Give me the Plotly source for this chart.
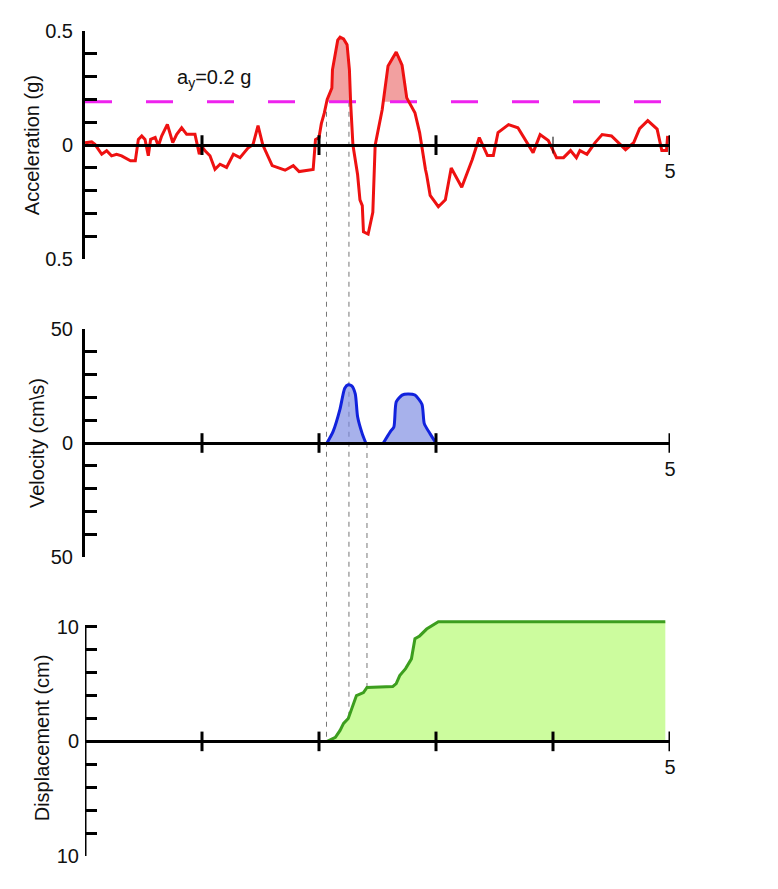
import plotly.graph_objects as go

# Acceleration record (time in s, acceleration in g)
acc_t = [0, 0.057, 0.085, 0.143, 0.185, 0.227, 0.27, 0.313, 0.389, 0.43,
         0.456, 0.485, 0.513, 0.541, 0.561, 0.6, 0.627, 0.655, 0.704, 0.75,
         0.784, 0.826, 0.869, 0.94, 0.977, 0.997, 1.026, 1.068, 1.111, 1.154,
         1.21, 1.268, 1.325, 1.396, 1.436, 1.479, 1.52, 1.6, 1.71, 1.78,
         1.83, 1.95, 1.97, 2.0, 2.02, 2.045, 2.07, 2.11, 2.115, 2.14,
         2.16, 2.18, 2.21, 2.24, 2.26, 2.27, 2.29, 2.33, 2.35, 2.37,
         2.38, 2.42, 2.46, 2.48, 2.54, 2.59, 2.66, 2.71, 2.75, 2.82,
         2.86, 2.91, 2.92, 2.95, 3.02, 3.08, 3.13, 3.22, 3.31, 3.37,
         3.44, 3.49, 3.53, 3.62, 3.7, 3.83, 3.89, 3.96, 4.03, 4.09,
         4.15, 4.2, 4.23, 4.29, 4.36, 4.42, 4.5, 4.62, 4.69, 4.74,
         4.81, 4.89, 4.93, 4.97, 4.98]
acc_g = [0.01, 0.014, 0.003, -0.04, -0.025, -0.047, -0.04, -0.047, -0.069, -0.069,
         0.025, 0.04, 0.025, -0.047, 0.025, 0.033, -0.004, 0.04, 0.091, 0.011,
         0.047, 0.076, 0.047, 0.047, -0.04, -0.004, -0.025, -0.047, -0.106, -0.084,
         -0.098, -0.04, -0.055, -0.011, 0.002, 0.085, 0.0, -0.09, -0.11, -0.09,
         -0.116, -0.107, 0.024, 0.033, 0.094, 0.14, 0.2, 0.25, 0.33, 0.395,
         0.46, 0.473, 0.465, 0.44, 0.33, 0.19, 0.0, -0.13, -0.24, -0.265,
         -0.38, -0.39, -0.295, 0.0, 0.155, 0.347, 0.408, 0.35, 0.207, 0.142,
         0.055, -0.107, -0.13, -0.22, -0.27, -0.24, -0.1, -0.185, -0.063, 0.033,
         -0.046, -0.046, 0.055, 0.09, 0.076, -0.033, 0.046, 0.02, -0.055, -0.055,
         -0.024, -0.055, -0.024, -0.04, 0.011, 0.046, 0.04, -0.02, 0.011, 0.072,
         0.107, 0.07, -0.024, -0.024, 0.04]
yield_acc = 0.19

# Sliding velocity pulses (cm/s)
vel1_t = [2.068, 2.12, 2.18, 2.22, 2.25, 2.28, 2.31, 2.33, 2.37, 2.4]
vel1_cms = [0, 5, 15, 24, 25.5, 25, 21.5, 11.5, 4, 0]
vel2_t = [2.55, 2.61, 2.64, 2.66, 2.71, 2.76, 2.82, 2.88, 2.9, 2.95, 3.0]
vel2_cms = [0, 5, 7, 18, 21, 21.5, 21, 17, 8.5, 4, 0]

# Sliding displacement (cm)
disp_t = [2.07, 2.14, 2.18, 2.21, 2.25, 2.28, 2.32, 2.38, 2.41, 2.63, 2.66,
          2.69, 2.74, 2.79, 2.82, 2.86, 2.92, 3.02, 4.96]
disp_cm = [0, 0.35, 0.96, 1.57, 2.0, 2.87, 4.0, 4.26, 4.7, 4.78, 5.04,
           5.74, 6.35, 7.2, 8.96, 9.2, 9.8, 10.43, 10.43]

# times of the dashed guide lines
guide_times = [2.064, 2.256, 2.41]

# axis ticks
acc_ticks = [0.5, 0, -0.5]
acc_labels = ['0.5', '0', '0.5']
vel_ticks = [50, 0, -50]
vel_labels = ['50', '0', '50']
disp_ticks = [10, 0, -10]
disp_labels = ['10', '0', '10']
acc_xticks = [1, 2, 3, 5]
vel_xticks = [1, 2, 3, 5]
disp_xticks = [1, 2, 3, 4, 5]

FONT = 'Liberation Sans, Arial, sans-serif'
# plot area: 585 x 828 px
doms = {'acc': [0.7234, 1.0], 'vel': [0.3623, 0.6389], 'disp': [0.0, 0.2862]}
ranges = {'acc': [-0.5, 0.5], 'vel': [-50, 50], 'disp': [-10, 10.6]}
minor_dt = {'acc': 0.1, 'vel': 10, 'disp': 2}


def to_paper(val, key):
    lo, hi = doms[key]
    r0, r1 = ranges[key]
    return lo + (val - r0) / (r1 - r0) * (hi - lo)


# red area above the yield acceleration
ft, fa = [], []
for i in range(len(acc_t) - 1):
    t0, a0, t1, a1 = acc_t[i], acc_g[i], acc_t[i + 1], acc_g[i + 1]
    ft.append(t0)
    fa.append(max(a0, yield_acc))
    if (a0 - yield_acc) * (a1 - yield_acc) < 0:
        ft.append(t0 + (yield_acc - a0) * (t1 - t0) / (a1 - a0))
        fa.append(yield_acc)
ft.append(acc_t[-1])
fa.append(max(acc_g[-1], yield_acc))

data = [
    go.Scatter(x=ft, y=fa, mode='lines', fill='toself', line=dict(width=0),
               fillcolor='rgb(242,160,160)', xaxis='x', yaxis='y'),
    go.Scatter(x=[0, 5], y=[yield_acc, yield_acc], mode='lines',
               line=dict(color='#ee22ee', width=3, dash='27px,34px'), xaxis='x', yaxis='y'),
    go.Scatter(x=acc_t, y=acc_g, mode='lines', line=dict(color='#ee1111', width=3),
               xaxis='x', yaxis='y'),
]
for vt, vv in [(vel1_t, vel1_cms), (vel2_t, vel2_cms)]:
    data.append(go.Scatter(x=vt, y=vv, mode='lines', fill='tozeroy',
                           line=dict(color='#1122dd', width=3, shape='spline', smoothing=0.6),
                           fillcolor='rgba(120,135,225,0.65)', xaxis='x2', yaxis='y2'))
data.append(go.Scatter(x=disp_t, y=disp_cm, mode='lines', fill='tozeroy',
                       line=dict(color='#3c9e1e', width=3),
                       fillcolor='rgb(204,252,158)', xaxis='x3', yaxis='y3'))

# tick marks crossing the zero lines
for xt, xa, ya in [(acc_xticks, 'x', 'y'), (vel_xticks, 'x2', 'y2'), (disp_xticks, 'x3', 'y3')]:
    data.append(go.Scatter(x=xt, y=[0] * len(xt), mode='markers', xaxis=xa, yaxis=ya,
                           marker=dict(symbol='line-ns', size=14, line=dict(width=3, color='black'))))
data.append(go.Scatter(x=[4], y=[0], mode='markers', xaxis='x', yaxis='y',
                       marker=dict(symbol='line-ns', size=12, line=dict(width=1, color='black'))))

# the page body adds 8 px around the figure
layout = go.Layout(width=770, height=881, showlegend=False,
                   paper_bgcolor='white', plot_bgcolor='white',
                   margin=dict(l=77, r=108, t=20, b=33),
                   font=dict(family=FONT, size=20, color='#111'))

for key, xa, ya, ticks, labels, title in [
        ('acc', 'xaxis', 'yaxis', acc_ticks, acc_labels, 'Acceleration (g)'),
        ('vel', 'xaxis2', 'yaxis2', vel_ticks, vel_labels, 'Velocity (cm\\s)'),
        ('disp', 'xaxis3', 'yaxis3', disp_ticks, disp_labels, 'Displacement (cm)')]:
    suffix = ya[5:]
    layout[xa] = dict(domain=[0, 1], range=[0, 5], anchor='free', position=to_paper(0, key),
                      showline=True, linecolor='black', linewidth=3, showgrid=False, zeroline=False,
                      tickvals=[5], ticktext=['5'], ticks='', ticklabelstandoff=7,
                      tickfont=dict(size=20))
    layout[ya] = dict(domain=doms[key], range=ranges[key], anchor='x' + suffix,
                      showline=key != 'disp', linecolor='black', linewidth=3,
                      showgrid=False, zeroline=False,
                      tickvals=ticks, ticktext=labels, ticks='inside', ticklen=12, tickwidth=3,
                      tickcolor='black', ticklabelstandoff=5, tickfont=dict(size=20),
                      minor=dict(tickmode='linear', tick0=0, dtick=minor_dt[key], ticks='inside',
                                 ticklen=12, tickwidth=3, tickcolor='black'),
                      title=dict(text=title, standoff=1, font=dict(size=20)))

shapes = []
for i, gt in enumerate(guide_times):
    top = to_paper(yield_acc, 'acc') if i < 2 else to_paper(0, 'vel')
    shapes.append(dict(type='line', xref='x', yref='paper', x0=gt, x1=gt,
                       y0=top, y1=to_paper(0, 'disp'), layer='below',
                       line=dict(color='#777', width=1, dash='5px,5px')))
# displacement axis line stops at the 10 cm tick
shapes.append(dict(type='line', xref='x3', yref='y3', x0=0, x1=0, y0=-10, y1=10,
                   line=dict(color='black', width=3)))
layout['shapes'] = shapes
layout['annotations'] = [dict(x=1.1, y=0.29, xref='x', yref='y', showarrow=False,
                              text='a<sub>y</sub>=0.2 g', font=dict(size=20))]

fig = go.Figure(data=data, layout=layout)
fig.write_html('out.html')
